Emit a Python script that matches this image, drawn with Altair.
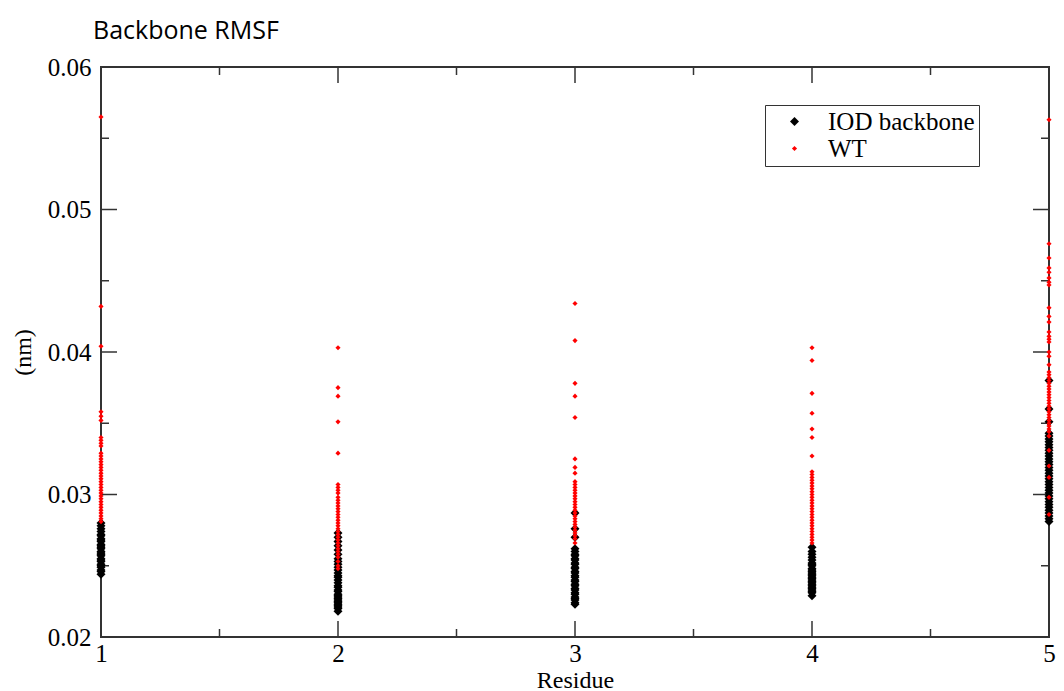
import altair as alt
import pandas as pd

residues = [1, 2, 3, 4, 5]

iod_r1 = [0.0244, 0.0246, 0.0247, 0.0249, 0.0250, 0.0251, 0.0253, 0.0254, 0.0255, 0.0257,
          0.0258, 0.0259, 0.0260, 0.0262, 0.0263, 0.0264, 0.0265, 0.0267, 0.0268, 0.0269,
          0.0271, 0.0272, 0.0274, 0.0276, 0.0278, 0.0280]
iod_r2 = [0.0218, 0.0220, 0.0221, 0.0222, 0.0223, 0.0224, 0.0225, 0.0226, 0.0227, 0.0228,
          0.0229, 0.0230, 0.0232, 0.0233, 0.0235, 0.0236, 0.0238, 0.0240, 0.0242, 0.0243,
          0.0245, 0.0247, 0.0249, 0.0251, 0.0253, 0.0255, 0.0258, 0.0261, 0.0264, 0.0267,
          0.0270, 0.0273]
iod_r3 = [0.0223, 0.0224, 0.0226, 0.0227, 0.0228, 0.0230, 0.0231, 0.0233, 0.0234, 0.0236,
          0.0237, 0.0239, 0.0240, 0.0242, 0.0243, 0.0245, 0.0246, 0.0248, 0.0249, 0.0251,
          0.0252, 0.0254, 0.0255, 0.0257, 0.0258, 0.0260, 0.0262, 0.0270, 0.0276, 0.0287]
iod_r4 = [0.0229, 0.0231, 0.0232, 0.0233, 0.0234, 0.0235, 0.0236, 0.0237, 0.0238, 0.0239,
          0.0240, 0.0241, 0.0242, 0.0243, 0.0244, 0.0245, 0.0246, 0.0247, 0.0248, 0.0250,
          0.0251, 0.0252, 0.0254, 0.0256, 0.0258, 0.0260, 0.0263]
iod_r5 = [0.0281, 0.0283, 0.0285, 0.0287, 0.0289, 0.0291, 0.0293, 0.0295, 0.0297, 0.0299,
          0.0301, 0.0303, 0.0305, 0.0307, 0.0309, 0.0311, 0.0313, 0.0315, 0.0317, 0.0319,
          0.0321, 0.0323, 0.0325, 0.0327, 0.0329, 0.0331, 0.0333, 0.0335, 0.0337, 0.0339,
          0.0341, 0.0343, 0.0351, 0.0360, 0.0380]

wt_r1 = [0.0565, 0.0432, 0.0404, 0.0358, 0.0355, 0.0352, 0.0340, 0.0338, 0.0336, 0.0334,
         0.0329, 0.0327, 0.0325, 0.0323, 0.0321, 0.0319, 0.0317, 0.0315, 0.0313, 0.0311,
         0.0309, 0.0307, 0.0305, 0.0303, 0.0301, 0.0299, 0.0297, 0.0295, 0.0293, 0.0291,
         0.0289, 0.0287, 0.0285, 0.0283, 0.0281]
wt_r2 = [0.0403, 0.0375, 0.0369, 0.0351, 0.0329, 0.0307, 0.0305, 0.0303, 0.0301, 0.0298,
         0.0296, 0.0294, 0.0292, 0.0290, 0.0288, 0.0286, 0.0284, 0.0282, 0.0280, 0.0278,
         0.0276, 0.0274, 0.0272, 0.0270, 0.0268, 0.0266, 0.0264, 0.0262, 0.0260, 0.0258,
         0.0256, 0.0253, 0.0250, 0.0248]
wt_r3 = [0.0434, 0.0408, 0.0378, 0.0369, 0.0354, 0.0325, 0.0319, 0.0315, 0.0309, 0.0307,
         0.0305, 0.0303, 0.0301, 0.0299, 0.0297, 0.0295, 0.0293, 0.0291, 0.0289, 0.0287,
         0.0285, 0.0283, 0.0281, 0.0279, 0.0277, 0.0275, 0.0273, 0.0271, 0.0269, 0.0266]
wt_r4 = [0.0403, 0.0394, 0.0371, 0.0357, 0.0346, 0.0340, 0.0327, 0.0316, 0.0314, 0.0312,
         0.0310, 0.0308, 0.0306, 0.0304, 0.0302, 0.0300, 0.0298, 0.0296, 0.0294, 0.0292,
         0.0290, 0.0288, 0.0286, 0.0284, 0.0282, 0.0280, 0.0278, 0.0276, 0.0274, 0.0272,
         0.0270, 0.0268, 0.0266]
wt_r5 = [0.0563, 0.0476, 0.0466, 0.0459, 0.0456, 0.0452, 0.0449, 0.0447, 0.0431, 0.0425,
         0.0421, 0.0414, 0.0411, 0.0409, 0.0407, 0.0400, 0.0397, 0.0391, 0.0386, 0.0384,
         0.0382, 0.0380, 0.0378, 0.0376, 0.0374, 0.0372, 0.0370, 0.0368, 0.0366, 0.0364,
         0.0362, 0.0360, 0.0358, 0.0356, 0.0354, 0.0352, 0.0350, 0.0348, 0.0346, 0.0344,
         0.0341, 0.0331, 0.0320, 0.0312, 0.0298, 0.0286]

series_names = ["IOD backbone", "WT"]
series_colors = ["#000000", "#ff0000"]
series_shapes = ["diamond", "diamond"]
series_sizes = [80, 26]

x_major = [1, 2, 3, 4, 5]
x_minor = [1.5, 2.5, 3.5, 4.5]
y_major = [0.02, 0.03, 0.04, 0.05, 0.06]
y_minor = [0.025, 0.035, 0.045, 0.055]

rows = []
for name, groups in zip(series_names, [[iod_r1, iod_r2, iod_r3, iod_r4, iod_r5],
                                       [wt_r1, wt_r2, wt_r3, wt_r4, wt_r5]]):
    for r, vals in zip(residues, groups):
        for v in vals:
            rows.append({"Residue": r, "RMSF": v, "Series": name})
df = pd.DataFrame(rows)

W, H = 948, 570
MAJ, MIN = 16, 8

xscale = alt.Scale(domain=[1, 5], nice=False, zero=False)
yscale = alt.Scale(domain=[0.02, 0.06], nice=False, zero=False)

xaxis = alt.Axis(values=x_major, format="d", title="Residue", labelPadding=4,
                 titlePadding=2, labelFlush=False, titleFontSize=24, labelFontSize=25)
yaxis = alt.Axis(values=y_major, format=".2f", title="(nm)", labelPadding=10,
                 titlePadding=12, titleFontSize=24, labelFontSize=25)

xmaj = pd.DataFrame({"Residue": x_major})
xmin = pd.DataFrame({"Residue": x_minor})
ymaj = pd.DataFrame({"RMSF": y_major})
ymin = pd.DataFrame({"RMSF": y_minor})

tick_color = "#333333"


def xticks(data, length):
    bottom = alt.Chart(data).mark_rule(color=tick_color, strokeWidth=1.5).encode(
        x=alt.X("Residue:Q", scale=xscale, axis=xaxis),
        y=alt.value(H), y2=alt.value(H - length))
    top = alt.Chart(data).mark_rule(color=tick_color, strokeWidth=1.5).encode(
        x=alt.X("Residue:Q", scale=xscale, axis=xaxis),
        y=alt.value(0), y2=alt.value(length))
    return [bottom, top]


def yticks(data, length):
    left = alt.Chart(data).mark_rule(color=tick_color, strokeWidth=1.5).encode(
        y=alt.Y("RMSF:Q", scale=yscale, axis=yaxis),
        x=alt.value(0), x2=alt.value(length))
    right = alt.Chart(data).mark_rule(color=tick_color, strokeWidth=1.5).encode(
        y=alt.Y("RMSF:Q", scale=yscale, axis=yaxis),
        x=alt.value(W), x2=alt.value(W - length))
    return [left, right]


points = alt.Chart(df).mark_point(filled=True, opacity=1, clip=False).encode(
    x=alt.X("Residue:Q", scale=xscale, axis=xaxis),
    y=alt.Y("RMSF:Q", scale=yscale, axis=yaxis),
    color=alt.Color("Series:N", scale=alt.Scale(domain=series_names, range=series_colors),
                    legend=alt.Legend(title=None, orient="none", legendX=664, legendY=38,
                                      strokeColor="#333333", padding=4,
                                      labelFont="Liberation Serif", labelFontSize=25,
                                      labelColor="black", labelOffset=21,
                                      symbolOffset=13, rowPadding=1, labelLimit=400)),
    shape=alt.Shape("Series:N", scale=alt.Scale(domain=series_names, range=series_shapes)),
    size=alt.Size("Series:N", scale=alt.Scale(domain=series_names, range=series_sizes)),
    order=alt.Order("Series:N", sort="ascending"),
)

layers = xticks(xmaj, MAJ) + xticks(xmin, MIN) + yticks(ymaj, MAJ) + yticks(ymin, MIN) + [points]

chart = alt.layer(*layers).properties(
    width=W, height=H,
    title=alt.TitleParams("Backbone RMSF", anchor="start", frame="group", font="Open Sans",
                          fontSize=25, fontWeight="normal", color="black", dx=-8, offset=11),
    autosize=alt.AutoSizeParams(type="none"),
    padding={"left": 93, "top": 59, "right": 7, "bottom": 54},
).configure_view(
    stroke="#333333", strokeWidth=2
).configure_axis(
    labelFont="Liberation Serif", labelFontSize=24, labelColor="black",
    titleFont="Liberation Serif", titleFontSize=24, titleFontWeight="normal", titleColor="black",
    domain=False, ticks=False, grid=False
)

chart.save("out.html", embed_options={"renderer": "svg", "actions": False})
